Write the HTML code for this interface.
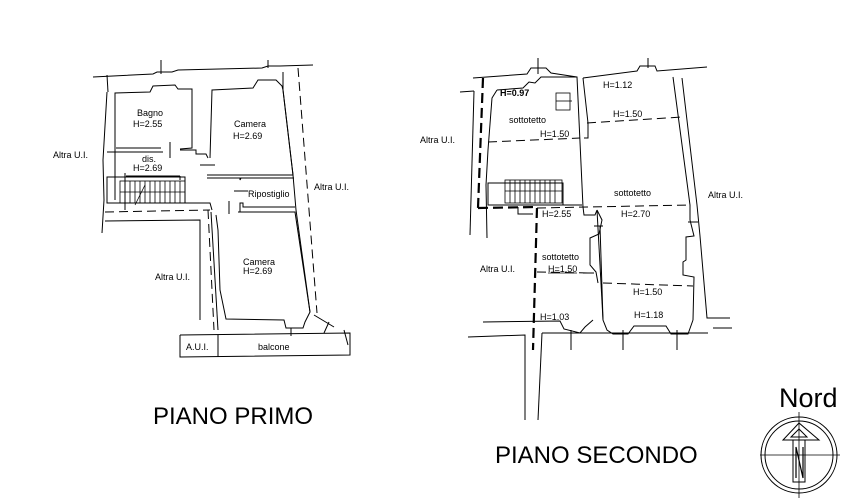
<!DOCTYPE html>
<html><head><meta charset="utf-8"><style>
html,body{margin:0;padding:0;background:#fff;width:850px;height:500px;overflow:hidden}
svg{display:block}
text{font-family:"Liberation Sans",sans-serif;fill:#000}
</style></head><body>
<svg width="850" height="500" viewBox="0 0 850 500" xmlns="http://www.w3.org/2000/svg">
<g stroke="#000" stroke-width="1" fill="none">
<polyline points="93,77 153,74 157,72 172,72 178,70 262,68 268,66 280,66 313,65"/>
<line x1="107" y1="75" x2="108" y2="92"/>
<line x1="161" y1="60" x2="161" y2="74"/>
<line x1="268" y1="60" x2="268" y2="68"/>
<polyline points="115,160 115,148 115,93 150,92 153,86 175,85 178,89 192,89 192,148 180,149"/>
<line x1="116" y1="148" x2="161" y2="148"/>
<line x1="170" y1="142" x2="170" y2="158"/>
<polyline points="180,150 196,150 196,154 206,154 208,158"/>
<polyline points="210,158 212,90 253,88 258,80 276,80 282,86 283,90 293,175 207,175"/>
<line x1="200" y1="165" x2="215" y2="165"/>
<polyline points="107,92 103,160 104,200 102,233"/>
<line x1="115" y1="160" x2="115" y2="200"/>
<polyline points="107,152 163,152"/>
<rect x="107" y="177" width="78" height="26"/>
<line x1="125" y1="173" x2="125" y2="210"/>
<line x1="126" y1="176" x2="180" y2="176"/>
<line x1="180" y1="176" x2="180" y2="180"/>
<g stroke-width="0.8">
<rect x="120" y="181" width="65" height="22"/>
<line x1="120" y1="192" x2="185" y2="192"/>
<line x1="125" y1="181" x2="125" y2="203"/><line x1="130" y1="181" x2="130" y2="203"/>
<line x1="135" y1="181" x2="135" y2="203"/><line x1="140" y1="181" x2="140" y2="203"/>
<line x1="145" y1="181" x2="145" y2="203"/><line x1="150" y1="181" x2="150" y2="203"/>
<line x1="155" y1="181" x2="155" y2="203"/><line x1="160" y1="181" x2="160" y2="203"/>
<line x1="165" y1="181" x2="165" y2="203"/><line x1="170" y1="181" x2="170" y2="203"/>
<line x1="175" y1="181" x2="175" y2="203"/><line x1="180" y1="181" x2="180" y2="203"/>
<line x1="135" y1="205" x2="145" y2="185"/>
</g>
<polyline points="107,203 210,203 212,210"/>
<line x1="105" y1="212" x2="210" y2="210" stroke-dasharray="9,5"/>
<polyline points="207,178 240,178 240,180 241,178 294,178"/>
<line x1="234" y1="191" x2="248" y2="191"/>
<polyline points="240,212 240,203 243,203 243,207 295,207"/>
<line x1="229" y1="201" x2="229" y2="214"/>
<polyline points="105,221 200,220 200,320"/>
<line x1="211" y1="212" x2="218" y2="330"/>
<line x1="208" y1="210" x2="214" y2="330" stroke-dasharray="9,5"/>
<polyline points="238,212 295,212 310,312 305,322 303,328 286,328 284,320 226,319 220,290 218,230 216,215"/>
<polyline points="283,72 283,90 293,175 296,210 310,312"/>
<line x1="298" y1="68" x2="317" y2="313" stroke-dasharray="9,5"/>
<line x1="314" y1="315" x2="334" y2="327"/>
<line x1="329" y1="322" x2="324" y2="333"/>
<line x1="344" y1="330" x2="348" y2="345"/>
<polyline points="180,335 350,333 350,355 180,357 180,335"/>
<line x1="218" y1="335" x2="218" y2="357"/>
<line x1="291" y1="328" x2="291" y2="336"/>

<polyline points="473,78 527,74 531,68 546,68 551,73 577,77"/>
<line x1="538" y1="58" x2="538" y2="74"/>
<polyline points="583,78 637,71 640,66 655,66 657,71 707,67"/>
<line x1="648" y1="58" x2="648" y2="68"/>
<line x1="460" y1="92" x2="474" y2="91"/>
<line x1="474" y1="91" x2="470" y2="235"/>
<polyline points="497,90 492,98 488,150 486,185 487,238"/>
<polyline points="497,90 523,88 529,82 535,83 541,77 577,77 583,207"/>
<rect x="556" y="93" width="14" height="17" stroke-width="0.8"/>
<line x1="556" y1="101" x2="572" y2="101" stroke-width="0.8"/>
<line x1="488" y1="142" x2="580" y2="138" stroke-dasharray="9,5"/>
<line x1="483" y1="78" x2="478" y2="208" stroke-dasharray="10,5" stroke-width="2.2"/>
<polyline points="478,208 537,207 533,350" stroke-dasharray="10,5" stroke-width="2.2"/>
<rect x="488" y="183" width="75" height="22"/>
<g stroke-width="0.8">
<rect x="505" y="180" width="57" height="23"/>
<line x1="505" y1="191" x2="562" y2="191"/>
<line x1="510" y1="180" x2="510" y2="203"/><line x1="515" y1="180" x2="515" y2="203"/>
<line x1="520" y1="180" x2="520" y2="203"/><line x1="525" y1="180" x2="525" y2="203"/>
<line x1="530" y1="180" x2="530" y2="203"/><line x1="535" y1="180" x2="535" y2="203"/>
<line x1="540" y1="180" x2="540" y2="203"/><line x1="545" y1="180" x2="545" y2="203"/>
<line x1="550" y1="180" x2="550" y2="203"/><line x1="555" y1="180" x2="555" y2="203"/>
</g>
<polyline points="563,205 582,205"/>
<polyline points="518,207 518,214 533,214"/>
<polyline points="583,78 588,123 588,138 584,138"/>
<polyline points="583,207 584,215 595,215 597,210"/>
<polyline points="597,210 602,220 599,234 590,238 590,265 596,272 598,283"/>
<line x1="594" y1="226" x2="603" y2="226"/>
<line x1="583" y1="273" x2="594" y2="273"/>
<line x1="597" y1="210" x2="603" y2="320"/>
<polyline points="600,226 603,320 607,330 613,334 628,334 634,326 666,326 671,334 688,334 693,320"/>
<polyline points="483,322 560,321 564,329 580,333 585,327 593,320"/>
<line x1="571" y1="330" x2="571" y2="350"/>
<line x1="623" y1="330" x2="623" y2="350"/>
<line x1="677" y1="330" x2="677" y2="350"/>
<polyline points="673,77 690,205 690,220 694,236 686,237 686,260 683,262 683,275 694,277 693,320"/>
<line x1="688" y1="222" x2="698" y2="222"/>
<polyline points="682,78 697,205 700,236 707,318 730,318"/>
<line x1="713" y1="328" x2="732" y2="328"/>
<line x1="587" y1="123" x2="682" y2="117" stroke-dasharray="9,5"/>
<line x1="537" y1="208" x2="690" y2="205" stroke-dasharray="9,5"/>
<line x1="603" y1="283" x2="693" y2="286" stroke-dasharray="9,5"/>
<line x1="537" y1="272" x2="590" y2="273" stroke-dasharray="9,5"/>
<polyline points="542,333 708,333"/>
<polyline points="468,337 525,335 525,420"/>
<line x1="542" y1="333" x2="538" y2="420"/>
<circle cx="799" cy="455" r="38"/>
<circle cx="799" cy="455" r="34"/>
<line x1="760" y1="455" x2="840" y2="455" stroke-width="0.8"/>
<line x1="799" y1="412" x2="799" y2="498" stroke-width="0.8"/>
<polygon points="799,423 783,440 819,440"/>
<polygon points="799,429 791,437 807,437"/>
<rect x="793" y="440" width="12" height="42"/>
</g>
<g stroke="#000" stroke-width="1.2" fill="none">
<polyline points="796,478 796,447 803,478 803,447"/>
</g>
<g font-size="9">
<text x="137" y="116">Bagno</text>
<text x="133" y="127">H=2.55</text>
<text x="234" y="127">Camera</text>
<text x="233" y="139">H=2.69</text>
<text x="142" y="162">dis.</text>
<text x="133" y="171">H=2.69</text>
<text x="248" y="197">Ripostiglio</text>
<text x="53" y="158">Altra U.I.</text>
<text x="314" y="190">Altra U.I.</text>
<text x="155" y="280">Altra U.I.</text>
<text x="243" y="265">Camera</text>
<text x="243" y="274">H=2.69</text>
<text x="186" y="350">A.U.I.</text>
<text x="258" y="350">balcone</text>
<text x="500" y="96" font-weight="bold">H=0.97</text>
<text x="509" y="123">sottotetto</text>
<text x="540" y="137">H=1.50</text>
<text x="603" y="88">H=1.12</text>
<text x="613" y="117">H=1.50</text>
<text x="614" y="196">sottotetto</text>
<text x="621" y="217">H=2.70</text>
<text x="542" y="217">H=2.55</text>
<text x="542" y="260">sottotetto</text>
<text x="548" y="272">H=1.50</text>
<text x="633" y="295">H=1.50</text>
<text x="540" y="320">H=1.03</text>
<text x="634" y="318">H=1.18</text>
<text x="420" y="143">Altra U.I.</text>
<text x="708" y="198">Altra U.I.</text>
<text x="480" y="272">Altra U.I.</text>
</g>
<line x1="548" y1="273" x2="577" y2="273" stroke="#000" stroke-width="0.8"/>
<text x="153" y="424" font-size="24">PIANO PRIMO</text>
<text x="495" y="463" font-size="24">PIANO SECONDO</text>
<text x="779" y="407" font-size="27">Nord</text>
</svg>
</body></html>
